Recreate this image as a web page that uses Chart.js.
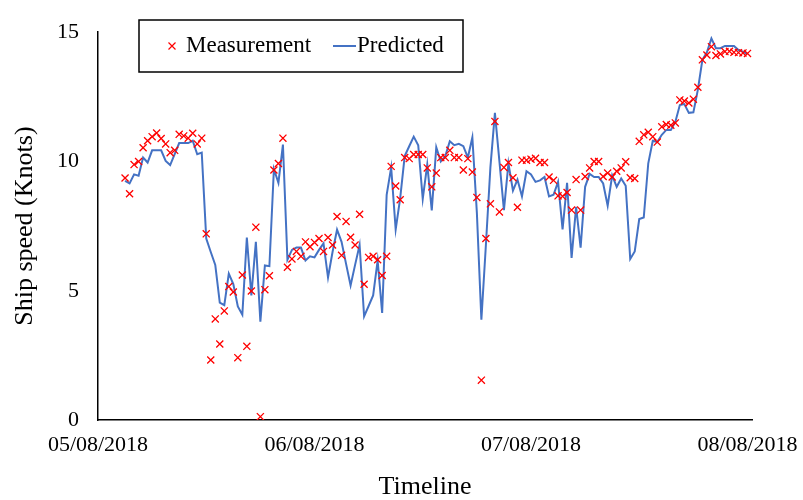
<!DOCTYPE html>
<html>
<head>
<meta charset="utf-8">
<script src="https://cdn.jsdelivr.net/npm/chart.js@4.4.1/dist/chart.umd.min.js"></script>
<style>
  html, body { margin: 0; padding: 0; background: #fff; }
  #wrap { width: 803px; height: 500px; }
</style>
</head>
<body>
<div id="wrap"><canvas id="chart" width="803" height="500"></canvas></div>
<script>
// half-hourly samples, first one at 05/08/2018 03:00
const startHour = 3;
const stepHours = 0.5;

const measured = [
  9.36, 8.75, 9.88, 10.0, 10.53, 10.8, 10.96, 11.1, 10.89, 10.68,
  10.34, 10.43, 11.05, 10.99, 10.9, 11.09, 10.68, 10.9, 7.2, 2.32,
  3.91, 2.94, 4.22, 5.16, 4.95, 2.41, 5.61, 2.85, 4.99, 7.46,
  0.13, 5.04, 5.58, 9.67, 9.92, 10.9, 5.91, 6.23, 6.52, 6.33,
  6.89, 6.7, 6.87, 7.02, 6.52, 7.06, 6.77, 7.87, 6.37, 7.68,
  7.07, 6.77, 7.96, 5.25, 6.29, 6.33, 6.2, 5.59, 6.33, 9.81,
  9.05, 8.52, 10.15, 10.11, 10.27, 10.27, 10.27, 9.75, 9.02, 9.55,
  10.15, 10.15, 10.43, 10.15, 10.15, 9.67, 10.11, 9.59, 8.61, 1.54,
  7.02, 8.36, 11.55, 8.05, 9.77, 9.96, 9.37, 8.23, 10.05, 10.05,
  10.09, 10.12, 9.96, 9.96, 9.4, 9.27, 8.67, 8.65, 8.8, 8.12,
  9.3, 8.12, 9.42, 9.75, 10.0, 10.0, 9.42, 9.55, 9.4, 9.62,
  9.75, 9.99, 9.37, 9.34, 10.78, 11.03, 11.13, 10.96, 10.75, 11.34,
  11.43, 11.4, 11.49, 12.38, 12.34, 12.26, 12.41, 12.87, 13.93, 14.12,
  14.44, 14.1, 14.16, 14.25, 14.26, 14.22, 14.21, 14.2, 14.18
];

const predicted = [
  9.25, 9.15, 9.5, 9.45, 10.15, 9.96, 10.43, 10.43, 10.43, 10.02,
  9.86, 10.28, 10.71, 10.71, 10.71, 10.8, 10.28, 10.34, 7.02, 6.5,
  6.0, 4.54, 4.44, 5.66, 5.26, 4.39, 4.07, 7.06, 4.82, 6.89,
  3.8, 5.98, 5.95, 9.71, 9.17, 10.65, 6.2, 6.58, 6.67, 6.67,
  6.17, 6.33, 6.29, 6.58, 6.83, 5.51, 6.5, 7.36, 6.89, 6.04,
  5.2, 6.0, 6.77, 4.01, 4.41, 4.82, 6.17, 4.14, 8.71, 9.77,
  7.37, 8.58, 10.21, 10.59, 10.96, 10.63, 8.55, 9.88, 8.11, 10.55,
  10.0, 10.21, 10.78, 10.63, 10.68, 10.59, 10.15, 10.93, 8.02, 3.88,
  6.77, 9.77, 11.88, 10.0, 8.12, 9.92, 8.87, 9.3, 8.65, 9.62,
  9.5, 9.21, 9.27, 9.4, 8.65, 8.71, 9.21, 7.37, 9.17, 6.27,
  8.24, 6.67, 9.02, 9.52, 9.4, 9.4, 9.15, 8.29, 9.46, 9.02,
  9.34, 9.06, 6.23, 6.52, 7.77, 7.83, 9.93, 10.8, 10.75, 11.03,
  11.22, 11.22, 11.53, 12.18, 12.22, 11.88, 11.9, 12.78, 13.93, 14.22,
  14.76, 14.38, 14.38, 14.47, 14.47, 14.47, 14.31, 14.25, 14.15
];

// x ticks, in hours from 05/08/2018 00:00
const tickHours = [0, 24, 48, 72];
const tickLabels = ['05/08/2018', '06/08/2018', '07/08/2018', '08/08/2018'];
const yTicks = [0, 5, 10, 15];

const hours = measured.map((_, i) => startHour + i * stepHours);
const serif = '"Liberation Serif", "Times New Roman", serif';

// legend drawn as a framed box inside the plot
const boxLegend = {
  id: 'boxLegend',
  afterDraw(chart) {
    const ctx = chart.ctx;
    ctx.save();
    ctx.strokeStyle = '#000';
    ctx.lineWidth = 1.5;
    ctx.strokeRect(139, 20, 324, 52);

    // cross marker
    ctx.strokeStyle = '#FF0000';
    ctx.lineWidth = 1.2;
    const cx = 172, cy = 46, r = 3.5;
    ctx.beginPath();
    ctx.moveTo(cx - r, cy - r); ctx.lineTo(cx + r, cy + r);
    ctx.moveTo(cx - r, cy + r); ctx.lineTo(cx + r, cy - r);
    ctx.stroke();

    // line sample
    ctx.strokeStyle = '#4472C4';
    ctx.lineWidth = 2;
    ctx.beginPath();
    ctx.moveTo(333, 46); ctx.lineTo(356, 46);
    ctx.stroke();

    ctx.fillStyle = '#000';
    ctx.font = '23px ' + serif;
    ctx.textBaseline = 'middle';
    ctx.textAlign = 'left';
    ctx.fillText('Measurement', 186, 46);
    ctx.fillText('Predicted', 357, 46);
    ctx.restore();
  }
};

const ctx = document.getElementById('chart').getContext('2d');
new Chart(ctx, {
  type: 'line',
  data: {
    datasets: [
      {
        label: 'Measurement',
        data: hours.map((h, i) => ({ x: h, y: measured[i] })),
        showLine: false,
        pointStyle: 'crossRot',
        pointRadius: 5,
        pointBorderWidth: 1.3,
        borderColor: '#FF0000',
        backgroundColor: '#FF0000',
        order: 0
      },
      {
        label: 'Predicted',
        data: hours.map((h, i) => ({ x: h, y: predicted[i] })),
        borderColor: '#4472C4',
        borderWidth: 2,
        pointRadius: 0,
        tension: 0,
        fill: false,
        order: 1
      }
    ]
  },
  options: {
    responsive: false,
    animation: false,
    layout: { padding: { left: 0, right: 51, top: 20, bottom: 0 } },
    plugins: {
      legend: { display: false },
      tooltip: { enabled: false }
    },
    scales: {
      x: {
        type: 'linear',
        min: 0,
        max: 72.5,
        afterBuildTicks: (scale) => { scale.ticks = tickHours.map(v => ({ value: v })); },
        afterFit: (scale) => {
          scale.height = 80;
          scale.paddingLeft = 0;
          scale.paddingRight = 0;
        },
        grid: { display: false, drawTicks: false },
        border: { display: true, color: '#000', width: 1.5 },
        ticks: {
          autoSkip: false,
          maxRotation: 0,
          padding: 12,
          color: '#000',
          font: { family: serif, size: 22 },
          callback: (v) => tickLabels[tickHours.indexOf(v)]
        },
        title: {
          display: true,
          text: 'Timeline',
          color: '#000',
          font: { family: serif, size: 26, lineHeight: 1 },
          padding: { top: 0, bottom: 0 }
        }
      },
      y: {
        min: 0,
        max: 15,
        afterBuildTicks: (scale) => { scale.ticks = yTicks.map(v => ({ value: v })); },
        afterFit: (scale) => { scale.width = 98; },
        grid: { display: false, drawTicks: false },
        border: { display: true, color: '#000', width: 1.5 },
        ticks: {
          padding: 19,
          color: '#000',
          font: { family: serif, size: 22 }
        },
        title: {
          display: true,
          text: 'Ship speed (Knots)',
          color: '#000',
          font: { family: serif, size: 26, lineHeight: 1 },
          padding: { top: 12, bottom: 0 }
        }
      }
    }
  },
  plugins: [boxLegend]
});
</script>
</body>
</html>
